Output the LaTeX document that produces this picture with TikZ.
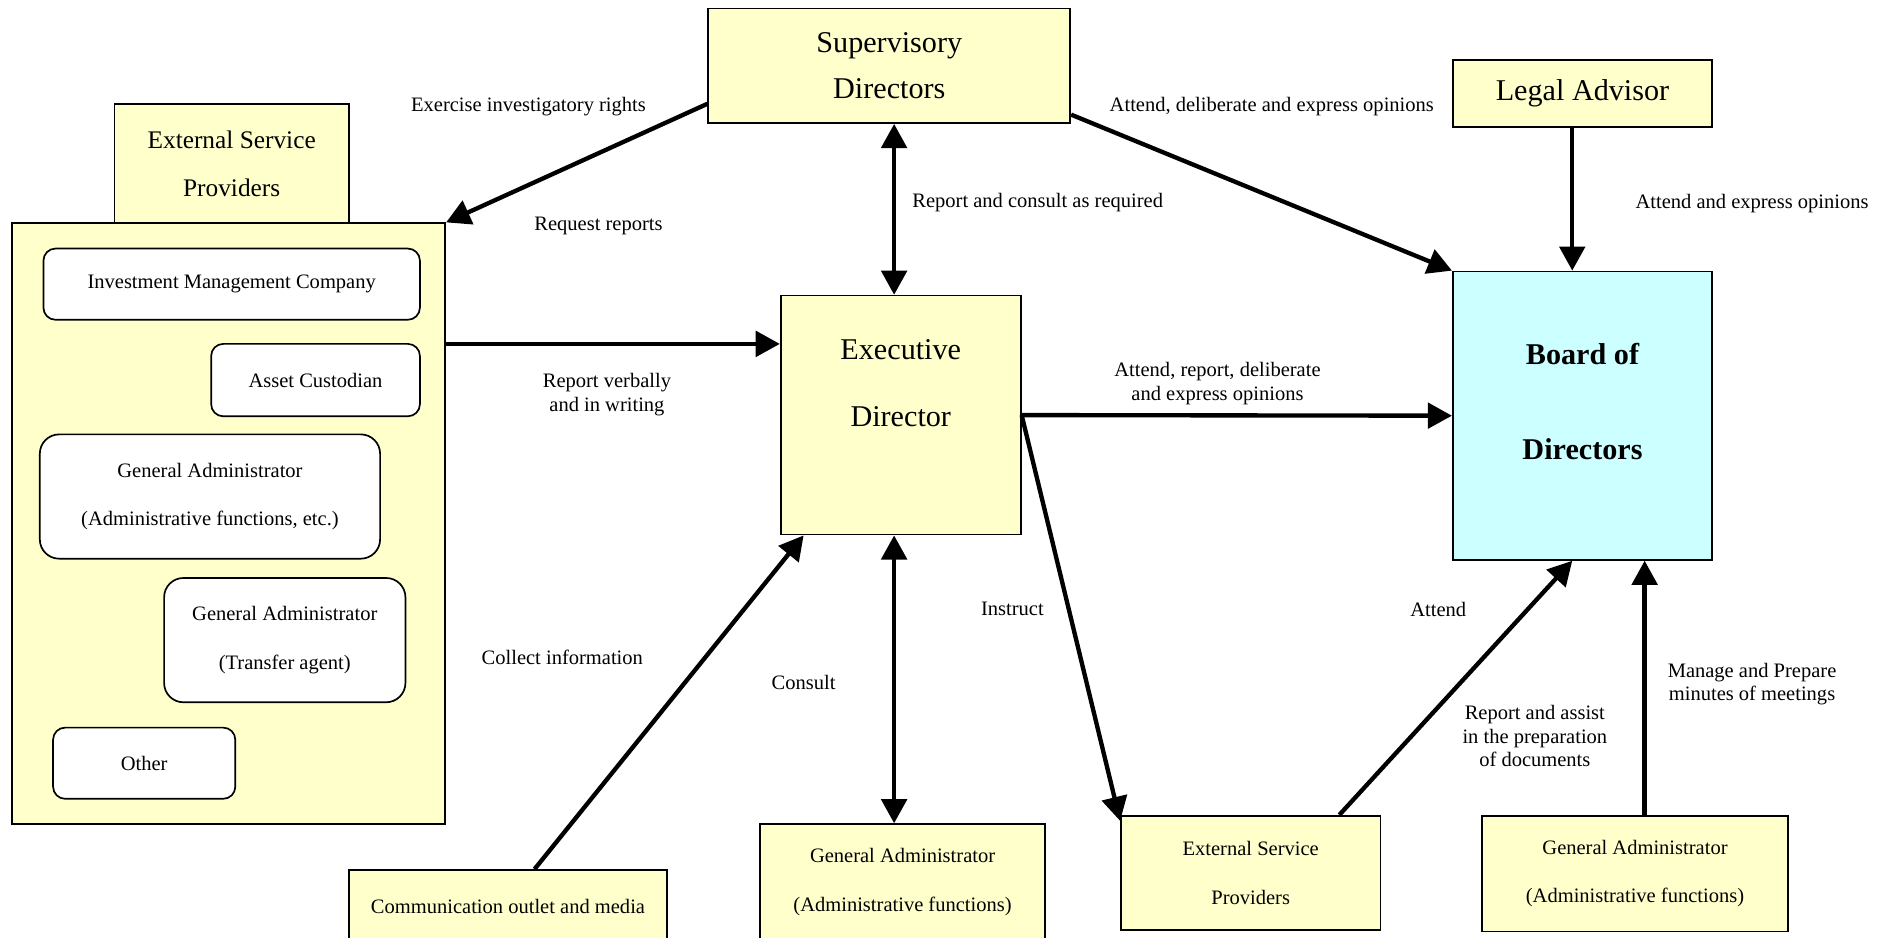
\documentclass[tikz,border=0pt]{standalone}
\usepackage{fontspec}
\setmainfont{Liberation Serif}
\usetikzlibrary{arrows.meta}
\definecolor{boxyellow}{HTML}{FFFFCC}
\definecolor{boardcyan}{HTML}{CCFFFF}
\tikzset{
  box/.style={draw, fill=boxyellow, line width=1.4pt, align=center, inner sep=0pt},
  rbox/.style={draw, fill=white, line width=1.4pt, rounded corners=10pt, align=center, inner sep=0pt, font=\fontsize{17}{40}\selectfont},
  bigtxt/.style={align=center, inner sep=0pt, font=\fontsize{25}{38}\selectfont},
  smalltxt/.style={font=\fontsize{17}{40}\selectfont},
  lbl/.style={align=center, inner sep=0pt, font=\fontsize{17}{19.5}\selectfont},
  arr/.style={line width=3.6pt, -{Triangle[length=20pt,width=21pt]}},
  darr/.style={line width=3.6pt, {Triangle[length=20pt,width=21pt]}-{Triangle[length=20pt,width=21pt]}}
}

\begin{document}
\begin{tikzpicture}[x=1pt,y=-1pt]
    \useasboundingbox (0,0) rectangle (1568,777);

    % top row
    \node[box, bigtxt, minimum width=300, minimum height=95] (sup) at (737,54.5) {Supervisory\\Directors};
    \node[box, bigtxt, minimum width=215, minimum height=55] (legal) at (1311.5,77.5) {Legal Advisor};

    % left group
    \node[box, minimum width=359, minimum height=498] (cont) at (189.5,434) {};
    \node[box, minimum width=194, minimum height=99, font=\fontsize{21}{40}\selectfont] (esptop) at (192,135.5) {External Service\\Providers};
    \node[rbox, minimum width=312, minimum height=59] (imc) at (192,235.5) {Investment Management Company};
    \node[rbox, minimum width=173, minimum height=60] (asset) at (261.5,315) {Asset Custodian};
    \node[rbox, rounded corners=16pt, minimum width=282, minimum height=103] (ga1) at (174,411.5) {General Administrator\\(Administrative functions, etc.)};
    \node[rbox, rounded corners=16pt, minimum width=200, minimum height=103] (ga2) at (236,530.5) {General Administrator\\(Transfer agent)};
    \node[rbox, minimum width=151, minimum height=59] (other) at (119.5,632.5) {Other};

    % middle
    \node[box, minimum width=199, minimum height=198] (exec) at (746.5,344) {};
    \node[bigtxt, font=\fontsize{25}{55}\selectfont] (exec-t) at (746.5,317.5) {Executive\\Director};

    % right
    \node[box, fill=boardcyan, minimum width=215, minimum height=239] (board) at (1311.5,344.5) {};
    \node[bigtxt, font=\fontsize{25}{79}\selectfont\bfseries] (board-t) at (1311.5,332.5) {Board of\\Directors};

    % bottom row
    \node[box, smalltxt, minimum width=264, minimum height=60] (comm) at (421,751) {Communication outlet and media};
    \node[box, smalltxt, minimum width=236, minimum height=96] (gab) at (748,731) {General Administrator\\(Administrative functions)};
    \node[box, smalltxt, minimum width=215, minimum height=95] (esp) at (1036.5,723.5) {External Service\\Providers};
    \node[box, smalltxt, minimum width=254, minimum height=96] (gar) at (1355,724) {General Administrator\\(Administrative functions)};

    % arrows
    \draw[arr] ([yshift=-31.5]sup.west) -- (cont.north east);
    \draw[darr] ([xshift=4]sup.south) -- ([xshift=-5.5]exec.north);
    \draw[arr] ([yshift=-40.5]sup.east) -- (board.north west);
    \draw[arr] ([xshift=-8.5]legal.south) -- ([xshift=-8.5]board.north);
    \draw[arr] ([yshift=149]cont.east) -- ([yshift=59]exec.west);
    \draw[arr] (exec.east) -- (board.west);
    \draw[arr] ([xshift=22]comm.north) -- ([xshift=-80.5]exec.south);
    \draw[darr] ([xshift=-5.5]exec.south) -- ([xshift=-7]gab.north);
    \draw[arr] (exec.east) -- ([yshift=-5]esp.north west);
    \draw[arr] ([xshift=73.5]esp.north) -- ([xshift=-8.5]board.south);
    \draw[arr] ([xshift=8]gar.north) -- ([xshift=51.5]board.south);

    % labels
    \node[lbl] (l-exer) at (438,88) {Exercise investigatory rights};
    \node[lbl] (l-req) at (496,187.5) {Request reports};
    \node[lbl] (l-cons1) at (860,167.5) {Report and consult as required};
    \node[lbl] (l-att1) at (1054,88) {Attend, deliberate and express opinions};
    \node[lbl] (l-att2) at (1452,168.5) {Attend and express opinions};
    \node[lbl] (l-verb) at (503,327) {Report verbally\\and in writing};
    \node[lbl] (l-att3) at (1009,318) {Attend, report, deliberate\\and express opinions};
    \node[lbl] (l-coll) at (466,545) {Collect information};
    \node[lbl] (l-cons2) at (666,565.5) {Consult};
    \node[lbl] (l-instr) at (839,505) {Instruct};
    \node[lbl] (l-att4) at (1192,505) {Attend};
    \node[lbl] (l-assist) at (1272,610) {Report and assist\\in the preparation\\of documents};
    \node[lbl] (l-minutes) at (1452,567) {Manage and Prepare\\minutes of meetings};
\end{tikzpicture}
\end{document}
